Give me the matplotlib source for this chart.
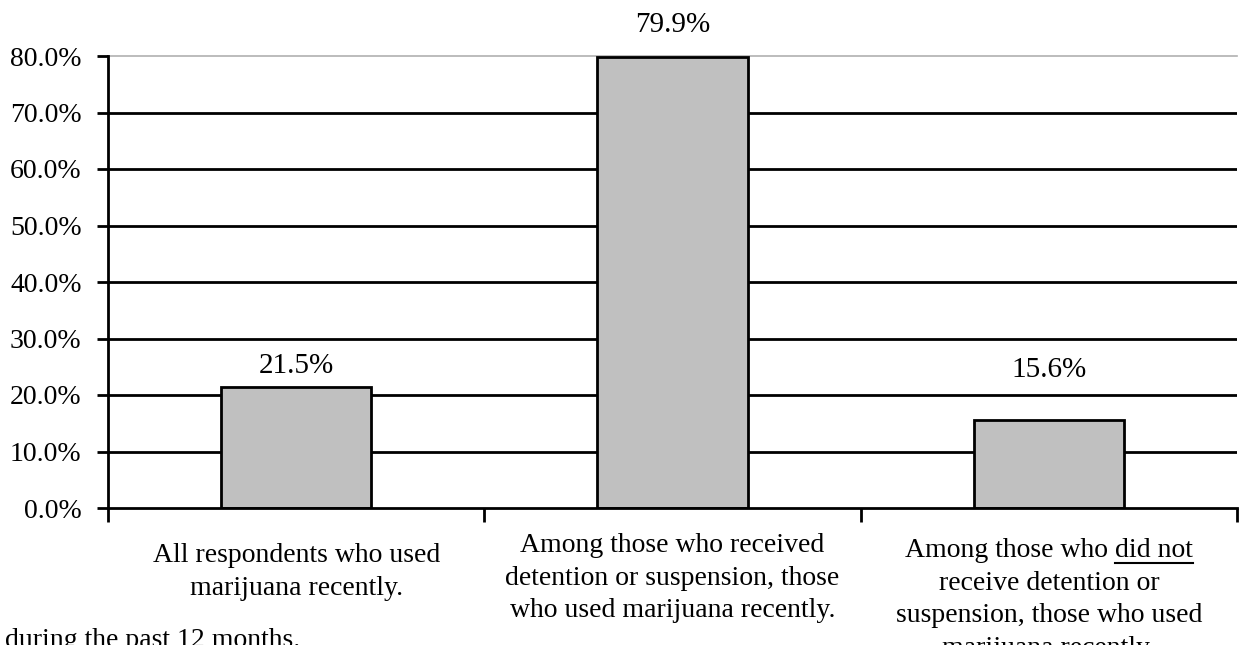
import matplotlib.pyplot as plt
from matplotlib.transforms import blended_transform_factory

plt.rcParams['font.family'] = ['Liberation Serif', 'DejaVu Serif']

categories = [
    "All respondents who used\nmarijuana recently.",
    "Among those who received\ndetention or suspension, those\nwho used marijuana recently.",
    "Among those who did not\nreceive detention or\nsuspension, those who used\nmarijuana recently.",
]
values = [21.5, 79.9, 15.6]
value_labels = ["21.5%", "79.9%", "15.6%"]
yticks = [0, 10, 20, 30, 40, 50, 60, 70, 80]
footnote = "during the past 12 months."

W, H = 1240, 645
fig = plt.figure(figsize=(W / 100, H / 100), dpi=100)
ax = fig.add_axes([108 / W, 1 - 508 / H, 1129 / W, 452 / H])

x = list(range(len(values)))
ax.set_xlim(-0.5, 2.5)
ax.set_ylim(0, 80)

# grid lines
for t in yticks[1:-1]:
    ax.axhline(t, color='black', lw=2, zorder=1)
ax.axhline(80, color='#b0b0b0', lw=1.2, zorder=1, clip_on=False)

ax.bar(x, values, width=0.4, color='#c0c0c0', edgecolor='black', linewidth=2, zorder=2)

# value labels, baseline offset above the bar top (points)
offsets = [10, 18, 31]
for xi, v, lab, off in zip(x, values, value_labels, offsets):
    ax.annotate(lab, xy=(xi, v), xytext=(0, off), textcoords='offset points',
                ha='center', va='baseline', fontsize=21, annotation_clip=False)

ax.spines['top'].set_visible(False)
ax.spines['right'].set_visible(False)
ax.spines['left'].set_linewidth(2)
ax.spines['bottom'].set_linewidth(2)

ax.set_yticks(yticks)
ax.set_yticklabels([f"{t:.1f}%" for t in yticks], fontsize=20)
ax.tick_params(axis='y', direction='out', length=8, width=2, pad=11)

ax.set_xticks([-0.5, 0.5, 1.5, 2.5])
ax.set_xticklabels([])
ax.tick_params(axis='x', direction='out', length=10, width=2)

# category labels
trans = blended_transform_factory(ax.transData, fig.transFigure)
label_tops = [543, 533, 538]
for xi, cat, top in zip(x, categories, label_tops):
    ax.text(xi, 1 - top / H, cat, transform=trans, ha='center', va='top',
            fontsize=20, linespacing=1.4, clip_on=False)

# underline "did not" in the third label
fig.canvas.draw()
renderer = fig.canvas.get_renderer()
third = ax.texts[-1]
full_bb = third.get_window_extent(renderer)
first_line = categories[2].split("\n")[0]
prefix = "Among those who "
tmp = fig.text(0, 0, first_line, fontsize=20)
w_full = tmp.get_window_extent(renderer).width
tmp.set_text(prefix)
w_pre = tmp.get_window_extent(renderer).width
tmp.set_text("did not")
w_dn = tmp.get_window_extent(renderer).width
tmp.remove()
x_center = ax.transData.transform((2, 0))[0]
x0 = x_center - w_full / 2 + w_pre
x1 = x0 + w_dn
y_under = full_bb.y1 - 25
fig.add_artist(plt.Line2D([x0 / W, x1 / W], [y_under / H, y_under / H],
                          color='black', lw=1.5, transform=fig.transFigure))

fig.text(5 / W, 1 - 647 / H, footnote, fontsize=20, ha='left', va='baseline')

fig.savefig("out.png", dpi=100)
